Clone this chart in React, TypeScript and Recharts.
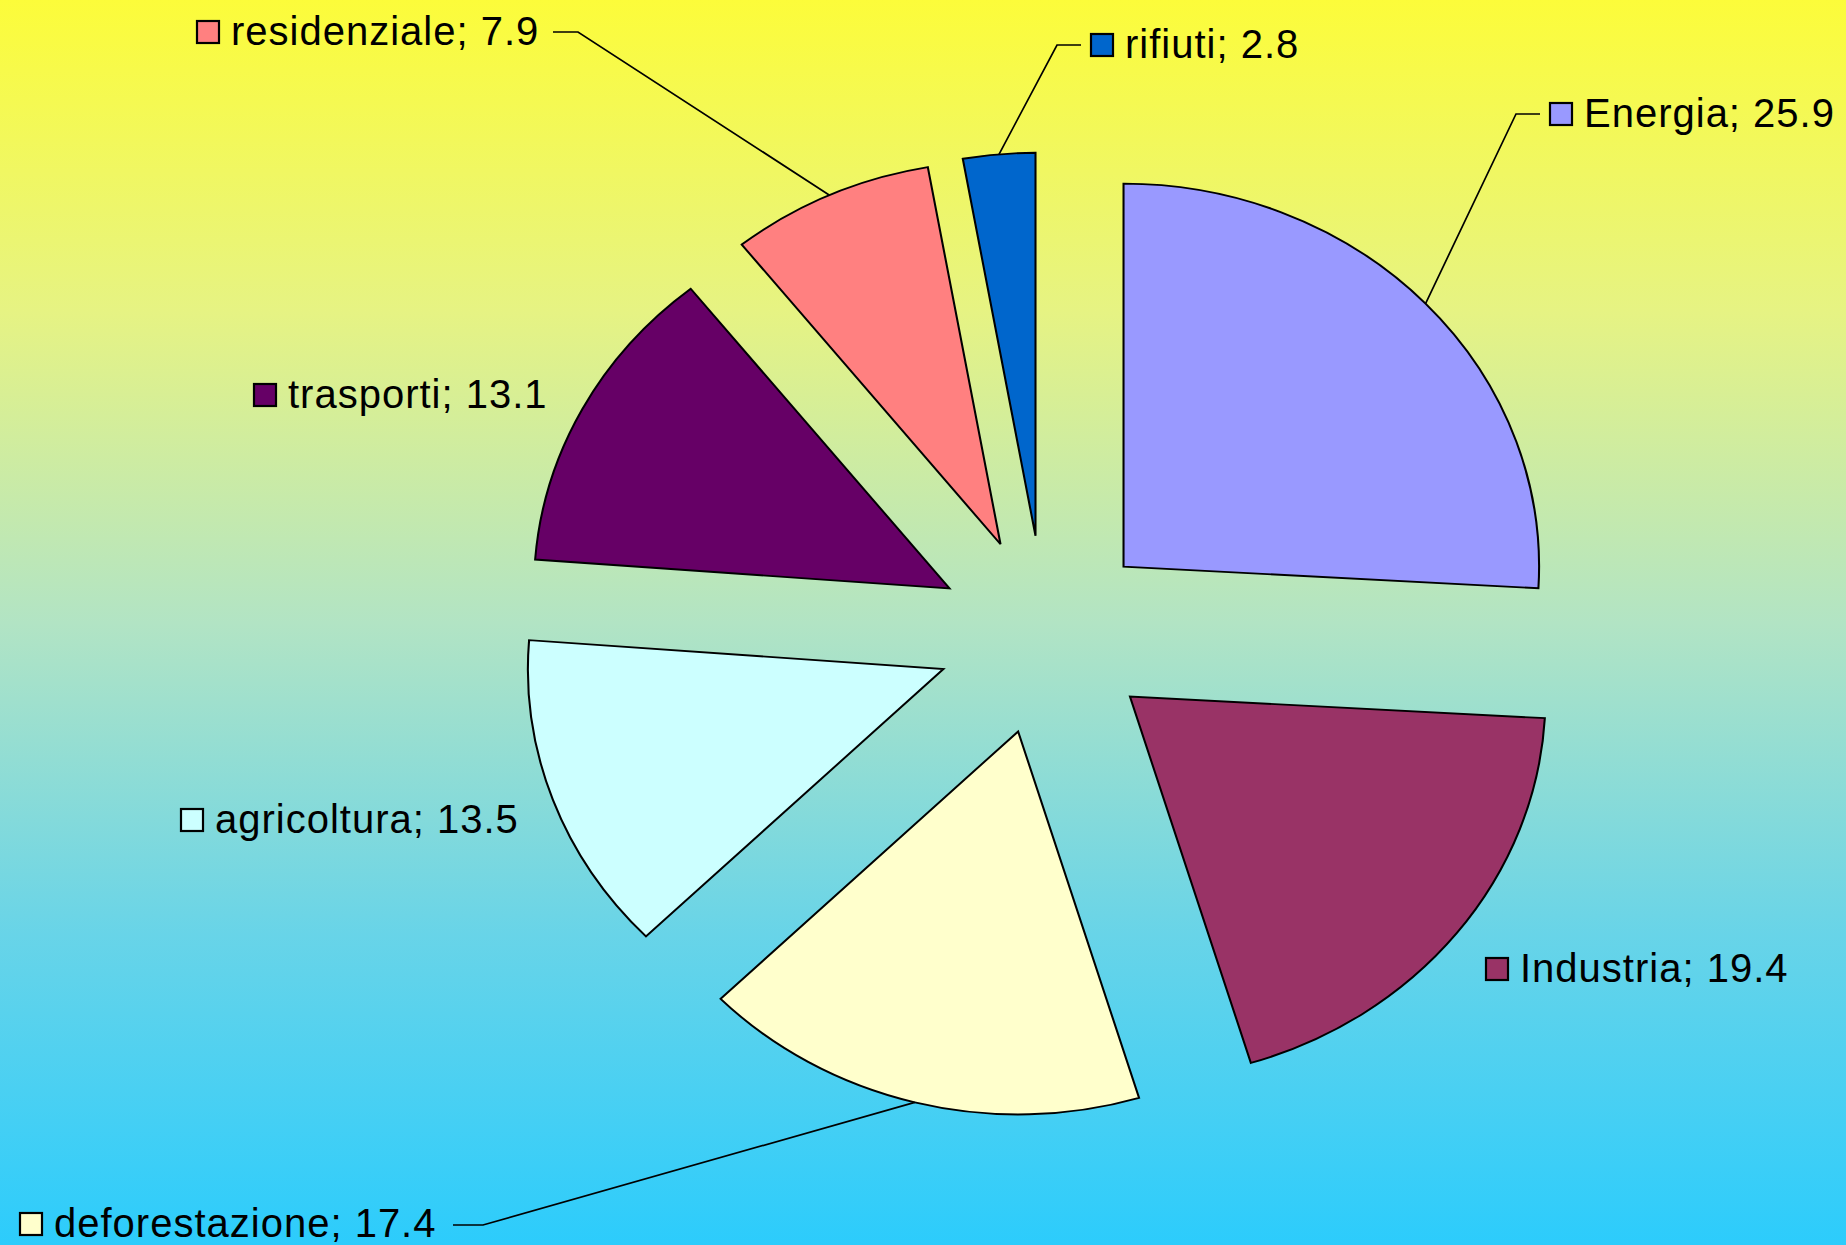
import { Cell, Pie, PieChart, Sector } from "recharts";

// emissions by sector (%)
const sectors = [
  "Energia",
  "Industria",
  "deforestazione",
  "agricoltura",
  "trasporti",
  "residenziale",
  "rifiuti",
];
const shares = [25.9, 19.4, 17.4, 13.5, 13.1, 7.9, 2.8];

const colors = ["#9999FF", "#993366", "#FFFFCC", "#CCFFFF", "#660066", "#FF8080", "#0066CC"];

const data = sectors.map((name, i) => ({ name, value: shares[i] }));

const W = 1846;
const H = 1245;
const CX = 1045;
const CY = 635;
const R = 383;
const SX = 1.085; // the original pie is slightly wider than tall
const EXPLODE = 0.26; // fraction of radius

// where each data label sits: box centre, optional leader elbow + end
const labelLayout: { box: [number, number]; elbow?: [number, number]; end?: [number, number] }[] = [
  { box: [1561, 114], elbow: [1516, 114], end: [1540, 114] },
  { box: [1497, 969] },
  { box: [31, 1224], elbow: [483, 1225], end: [453, 1225] },
  { box: [192, 820] },
  { box: [265, 395] },
  { box: [208, 32], elbow: [578, 32], end: [553, 32] },
  { box: [1102, 45], elbow: [1057, 45], end: [1081, 45] },
];

const RAD = Math.PI / 180;

function offsetOf(cx: number, cy: number, midAngle: number, r: number) {
  const a = -midAngle * RAD;
  return {
    x: cx + SX * EXPLODE * r * Math.cos(a),
    y: cy + EXPLODE * r * Math.sin(a),
  };
}

function ExplodedSector(props: any) {
  const { cx, cy, midAngle, outerRadius, startAngle, endAngle, fill } = props;
  const o = offsetOf(cx, cy, midAngle, outerRadius);
  return (
    <g transform={`translate(${o.x} ${o.y}) scale(${SX} 1) translate(${-cx} ${-cy})`}>
      <Sector
        cx={cx}
        cy={cy}
        innerRadius={0}
        outerRadius={outerRadius}
        startAngle={startAngle}
        endAngle={endAngle}
        fill={fill}
        stroke="#000"
        strokeWidth={1.9}
      />
    </g>
  );
}

function renderLabel(props: any) {
  const { cx, cy, midAngle, outerRadius, index, name, value } = props;
  const layout = labelLayout[index];
  const [bx, by] = layout.box;
  let leader = null;
  if (layout.elbow && layout.end) {
    const o = offsetOf(cx, cy, midAngle, outerRadius);
    const a = -midAngle * RAD;
    const ax = o.x + SX * outerRadius * Math.cos(a);
    const ay = o.y + outerRadius * Math.sin(a);
    leader = (
      <polyline
        points={`${ax},${ay} ${layout.elbow[0]},${layout.elbow[1]} ${layout.end[0]},${layout.end[1]}`}
        fill="none"
        stroke="#000"
        strokeWidth={1.7}
      />
    );
  }
  return (
    <g key={`lbl-${index}`}>
      {leader}
      <rect x={bx - 11} y={by - 11} width={22} height={22} fill={colors[index]} stroke="#000" strokeWidth={2.2} />
      <text
        x={bx + 23}
        y={by + 13}
        fontFamily="'Liberation Sans', Arial, sans-serif"
        fontSize={40}
        letterSpacing={1}
        fill="#000"
      >
        {`${name}; ${value}`}
      </text>
    </g>
  );
}

export default function App() {
  return (
    <div
      style={{
        position: "absolute",
        left: 0,
        top: 0,
        width: W,
        height: H,
        background:
          "linear-gradient(to bottom, #FCFC3A 0%, #E6F383 25%, #B2E4C4 50%, #68D4E8 75%, #2CCCFC 100%)",
      }}
    >
      <PieChart width={W} height={H} margin={{ top: 0, right: 0, bottom: 0, left: 0 }}>
        <Pie
          data={data}
          dataKey="value"
          nameKey="name"
          cx={CX}
          cy={CY}
          innerRadius={0}
          outerRadius={R}
          startAngle={90}
          endAngle={-270}
          shape={ExplodedSector}
          label={renderLabel}
          labelLine={false}
          isAnimationActive={false}
        >
          {data.map((d, i) => (
            <Cell key={d.name} fill={colors[i]} />
          ))}
        </Pie>
      </PieChart>
    </div>
  );
}
